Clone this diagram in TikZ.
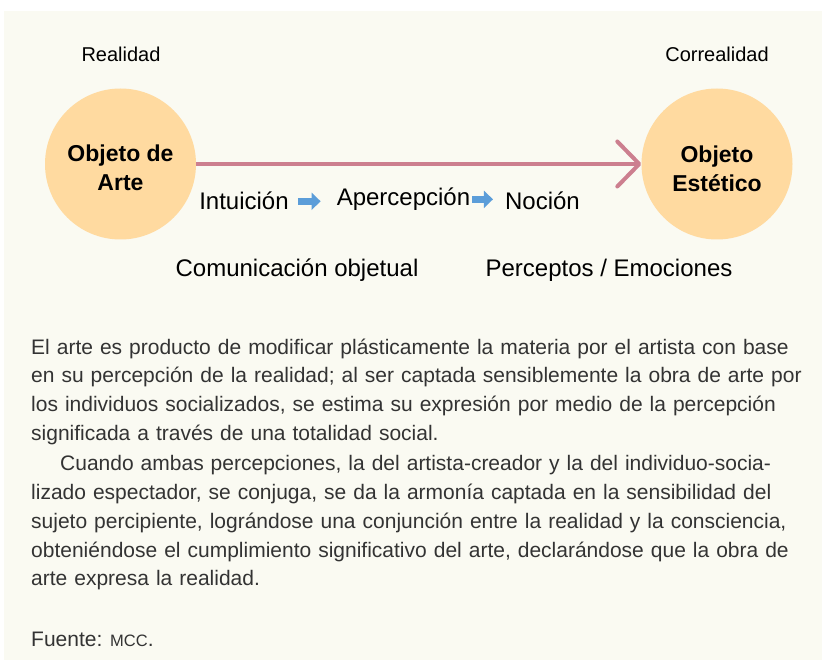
\documentclass[tikz,border=0pt]{standalone}
\usepackage{fontspec}
\setmainfont{Liberation Sans}
\usetikzlibrary{arrows.meta}
\definecolor{panel}{RGB}{250,250,242}
\definecolor{peach}{RGB}{255,218,160}
\definecolor{rose}{RGB}{204,127,143}
\definecolor{skyblue}{RGB}{91,157,217}
\definecolor{bodygray}{RGB}{51,51,51}

\begin{document}
\begin{tikzpicture} [x=1pt, y=-1pt,
          bubble/.style = {circle, fill=peach, minimum size=151pt, inner sep=0pt},
          bubbletext/.style = {align=center, inner sep=0pt, font=\bfseries\fontsize{23}{29}\selectfont},
          toplabel/.style = {anchor=base, inner sep=0pt, font=\fontsize{20}{24}\selectfont},
          steplabel/.style = {anchor=base, inner sep=0pt, font=\fontsize{24}{28}\selectfont},
          mainarrow/.style = {draw=rose, line width=4pt, -{Straight Barb[length=22pt, width=45pt, round]}},
          flowarrow/.style = {draw=skyblue, line width=7pt, -{Triangle[length=9pt, width=17pt]}}
          ]
  \useasboundingbox (0,0) rectangle (822,660);
  \fill[panel] (4,11) rectangle (822,660);

  \node[toplabel] (realidad) at (121,62) {Realidad};
  \node[toplabel] (correalidad) at (717,62) {Correalidad};

  \node[bubble] (arte) at (120.5,164) {};
  \node[bubbletext] (arteTxt) at (120.5,168) {Objeto de\\Arte};
  \node[bubble] (estetico) at (717,164) {};
  \node[bubbletext] (esteticoTxt) at (717,169) {Objeto\\Estético};

  \draw[mainarrow] (arte.east) -- (estetico.west);

  \node[steplabel] (intu) at (244,210) {Intuición};
  \node[steplabel] (aper) at (403.5,205.7) {Apercepción};
  \node[steplabel] (noc) at (542.5,209.5) {Noción};
  \draw[flowarrow, shorten <=9pt, shorten >=16pt] (intu.east) -- (intu.east -| aper.west);
  \draw[flowarrow, shorten <=2pt, shorten >=12pt] (aper.east) -- (aper.east -| noc.west);

  \node[steplabel] (comunicacion) at (297,277) {Comunicación objetual};
  \node[steplabel] (perceptos) at (609,277) {Perceptos / Emociones};

  % texto explicativo
  \node[anchor=north west, inner sep=0pt, text width=775pt, align=left, text=bodygray,
        font=\fontsize{21}{28.7}\selectfont] (texto) at (31,333.9) {%
    \strut\makebox[775pt][s]{El arte es producto de modificar plásticamente la materia por el artista con base}\\
    \makebox[775pt][s]{en su percepción de la realidad; al ser captada sensiblemente la obra de arte por}\\
    \makebox[775pt][s]{los individuos socializados, se estima su expresión por medio de la percepción}\\
    significada a través de una totalidad social.\\[2pt]
    \makebox[775pt][s]{\hspace*{29pt}Cuando ambas percepciones, la del artista-creador y la del individuo-socia-}\\
    \makebox[775pt][s]{lizado espectador, se conjuga, se da la armonía captada en la sensibilidad del}\\
    \makebox[775pt][s]{sujeto percipiente, lográndose una conjunción entre la realidad y la consciencia,}\\
    \makebox[775pt][s]{obteniéndose el cumplimiento significativo del arte, declarándose que la obra de}\\
    arte expresa la realidad.};

  \node[anchor=base west, inner sep=0pt, text=bodygray, font=\fontsize{21}{28.7}\selectfont]
    (fuente) at (31,646.7) {Fuente: {\fontsize{16.5}{18}\selectfont MCC}.};
\end{tikzpicture}
\end{document}
